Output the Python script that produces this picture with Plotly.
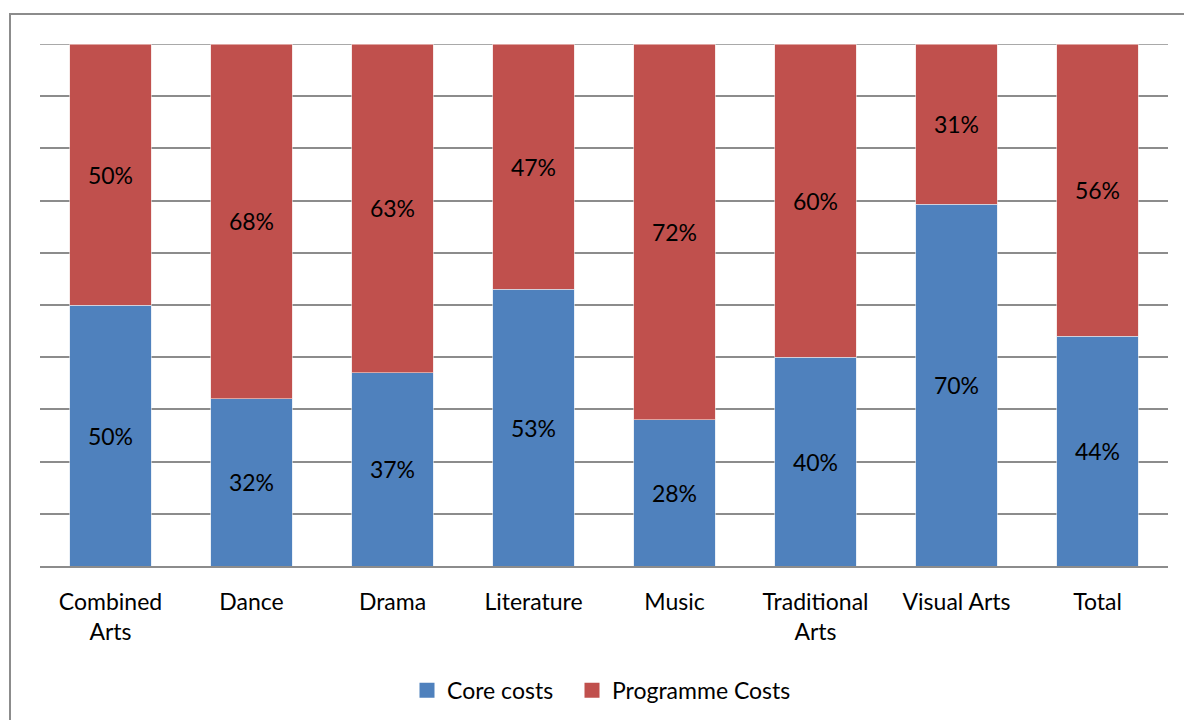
import plotly.graph_objects as go

categories = ["Combined<br>Arts", "Dance", "Drama", "Literature", "Music",
              "Traditional<br>Arts", "Visual Arts", "Total"]
core_costs = [50, 32, 37, 53, 28, 40, 70, 44]
programme_costs = [50, 68, 63, 47, 72, 60, 31, 56]
series_names = ["Core costs", "Programme Costs"]

BLUE = "#4F81BD"
RED = "#C0504D"
GRID = "#8C8C8C"
FONT = "Lato, Open Sans, sans-serif"

fig = go.Figure()
series = [(series_names[0], core_costs, BLUE, "#DCE6F2", "legend"),
          (series_names[1], programme_costs, RED, "#F2DCDB", "legend2")]
for name, vals, col, edge, leg in series:
    fig.add_trace(go.Bar(
        name=name, x=categories, y=vals, showlegend=False,
        marker=dict(color=col, line=dict(color=edge, width=0.6)),
        text=[f"{v}%" for v in vals], textposition="inside",
        insidetextanchor="middle", textangle=0,
        insidetextfont=dict(color="black", size=23, family=FONT),
    ))
    # legend entry with a larger square swatch
    fig.add_trace(go.Scatter(
        name=name, x=[None], y=[None], mode="markers",
        marker=dict(symbol="square", size=15, color=col),
        showlegend=True, legend=leg,
    ))

legend_style = dict(orientation="h", xanchor="left", y=-0.197, yanchor="top",
                    font=dict(size=23), itemwidth=30)

fig.update_layout(
    barmode="stack", barnorm="percent", bargap=0.425,
    width=1184, height=720,
    margin=dict(l=40, r=16, t=44, b=154, autoexpand=False),
    paper_bgcolor="white", plot_bgcolor="white",
    font=dict(family=FONT, color="black", size=23),
    showlegend=True,
    legend=dict(x=(407 - 40) / 1128, **legend_style),
    legend2=dict(x=(572 - 40) / 1128, **legend_style),
    uniformtext=dict(minsize=23, mode="show"),
)
fig.update_xaxes(showline=True, linecolor=GRID, linewidth=2, ticks="",
                 tickfont=dict(size=23), showgrid=False, automargin=False,
                 ticklabelstandoff=14)
fig.update_yaxes(range=[0, 100], dtick=10, showgrid=True, gridcolor=GRID,
                 gridwidth=1.5, showticklabels=False, zeroline=False,
                 showline=False, ticks="", automargin=False)

# top gridline at 100%
fig.add_shape(type="line", xref="paper", yref="y", x0=0, x1=1, y0=100, y1=100,
              line=dict(color=GRID, width=1.5), layer="below")

# outer chart frame
fig.add_shape(type="rect", xref="paper", yref="paper",
              x0=-30 / 1128, x1=1.05, y0=-0.5, y1=1 + 30 / 522,
              line=dict(color=GRID, width=2), fillcolor="rgba(0,0,0,0)",
              layer="below")

fig.write_html("out.html")
